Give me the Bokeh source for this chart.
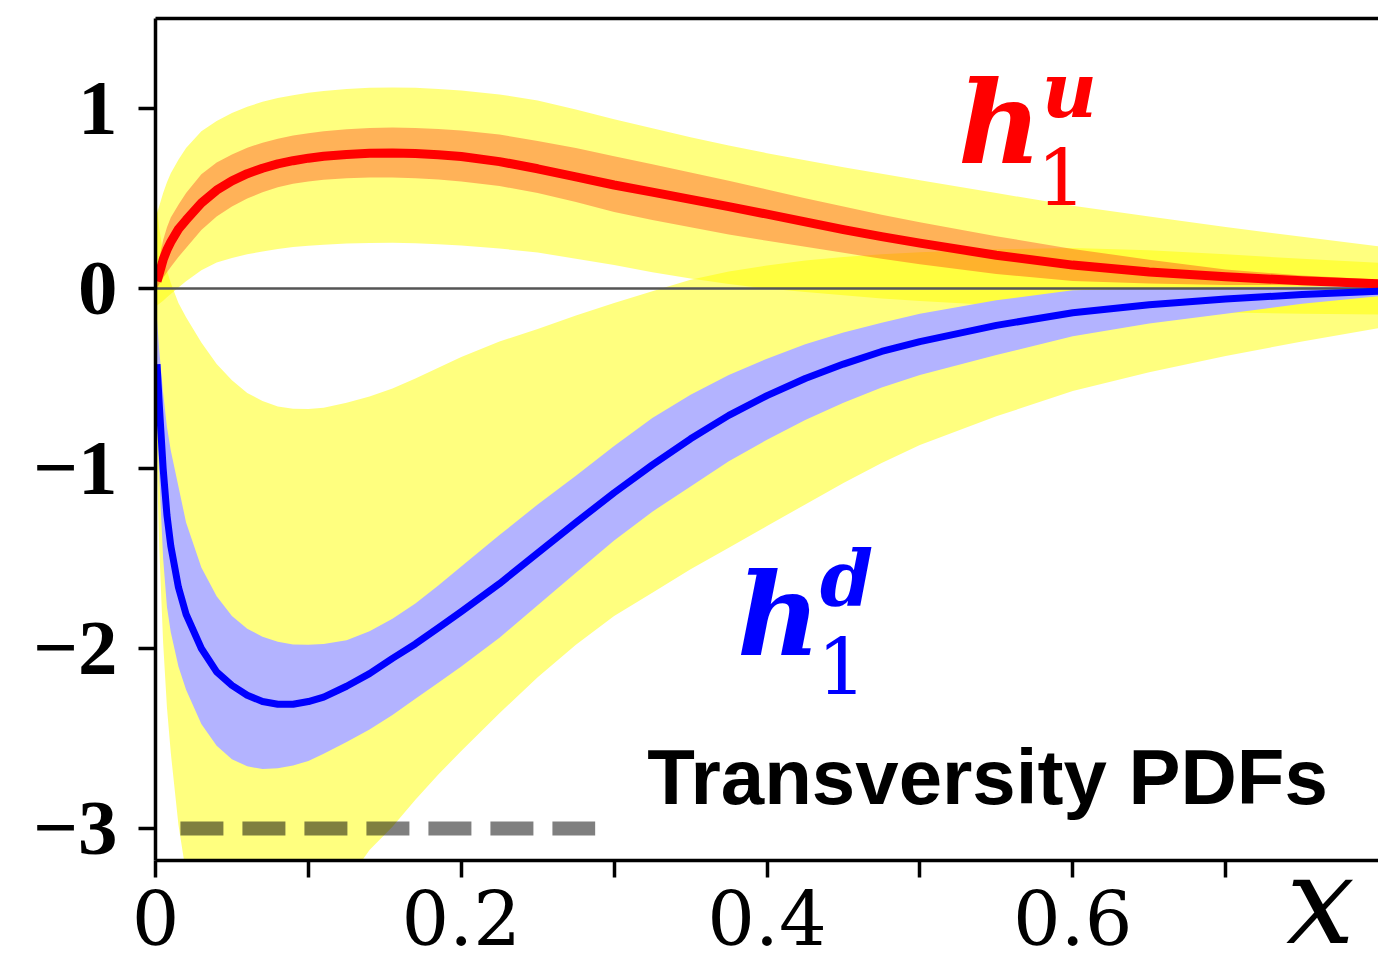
from bokeh.plotting import figure
from bokeh.models import ColumnDataSource, Label, FixedTicker, LinearAxis, Range1d
from bokeh.embed import file_html
from bokeh.resources import INLINE

# ---- data ----
x = [0.001, 0.0025, 0.005, 0.0075, 0.01, 0.015, 0.02, 0.03, 0.04, 0.05, 0.06, 0.07, 0.08, 0.09,
     0.1, 0.11, 0.125, 0.14, 0.155, 0.17, 0.185, 0.2, 0.225, 0.25, 0.275, 0.3, 0.325, 0.35,
     0.375, 0.4, 0.425, 0.45, 0.475, 0.5, 0.55, 0.6, 0.65, 0.7, 0.75, 0.8]

# h1^u : central curve, inner (orange) band, outer (yellow) band
u_cen = [0.04, 0.085, 0.16, 0.215, 0.258, 0.33, 0.38, 0.475, 0.546, 0.598, 0.638, 0.668, 0.692, 0.71,
         0.724, 0.735, 0.745, 0.751, 0.753, 0.75, 0.743, 0.733, 0.705, 0.665, 0.62, 0.575, 0.535, 0.495,
         0.455, 0.413, 0.37, 0.327, 0.288, 0.252, 0.185, 0.13, 0.092, 0.065, 0.043, 0.026]
u_hi = [0.08, 0.17, 0.27, 0.34, 0.395, 0.465, 0.53, 0.635, 0.70, 0.745, 0.782, 0.81, 0.832, 0.85,
        0.862, 0.873, 0.885, 0.892, 0.894, 0.892, 0.886, 0.878, 0.855, 0.82, 0.78, 0.735, 0.69, 0.645,
        0.598, 0.55, 0.502, 0.455, 0.41, 0.368, 0.29, 0.22, 0.16, 0.105, 0.072, 0.05]
u_lo = [0.0, 0.025, 0.06, 0.09, 0.12, 0.175, 0.225, 0.325, 0.40, 0.455, 0.50, 0.535, 0.562, 0.582,
        0.595, 0.604, 0.612, 0.616, 0.617, 0.613, 0.605, 0.595, 0.57, 0.53, 0.48, 0.425, 0.38, 0.34,
        0.30, 0.265, 0.232, 0.198, 0.165, 0.135, 0.08, 0.042, 0.028, 0.02, 0.018, 0.016]
uy_hi = [0.42, 0.46, 0.53, 0.59, 0.64, 0.715, 0.78, 0.873, 0.93, 0.975, 1.01, 1.037, 1.058, 1.074,
         1.087, 1.097, 1.108, 1.115, 1.117, 1.115, 1.109, 1.10, 1.078, 1.045, 0.995, 0.94, 0.89, 0.84,
         0.795, 0.752, 0.712, 0.674, 0.637, 0.602, 0.53, 0.46, 0.40, 0.342, 0.287, 0.235]
uy_lo = [-0.095, -0.085, -0.068, -0.048, -0.03, 0.005, 0.04, 0.102, 0.144, 0.17, 0.19, 0.206, 0.22, 0.23,
         0.237, 0.243, 0.25, 0.253, 0.254, 0.252, 0.246, 0.239, 0.222, 0.2, 0.165, 0.13, 0.09, 0.055,
         0.025, 0.0, -0.02, -0.038, -0.055, -0.07, -0.093, -0.11, -0.123, -0.133, -0.14, -0.145]

# h1^d : central curve, inner (blue) band, outer (yellow) band
d_cen = [-0.42, -0.65, -1.0, -1.26, -1.43, -1.66, -1.81, -2.0, -2.13, -2.205, -2.26, -2.295, -2.31, -2.31,
         -2.295, -2.27, -2.21, -2.14, -2.055, -1.975, -1.885, -1.795, -1.64, -1.47, -1.30, -1.135, -0.98, -0.835,
         -0.705, -0.595, -0.50, -0.42, -0.35, -0.295, -0.205, -0.135, -0.09, -0.058, -0.034, -0.015]
d_hi = [-0.17, -0.35, -0.58, -0.77, -0.9, -1.1, -1.3, -1.55, -1.71, -1.82, -1.89, -1.935, -1.963, -1.978,
        -1.98, -1.975, -1.955, -1.905, -1.835, -1.75, -1.65, -1.545, -1.37, -1.2, -1.04, -0.875, -0.72, -0.59,
        -0.48, -0.39, -0.31, -0.245, -0.19, -0.14, -0.065, -0.01, 0.0, 0.006, 0.01, 0.013]
d_lo = [-0.7, -1.05, -1.5, -1.77, -1.91, -2.1, -2.23, -2.42, -2.54, -2.615, -2.655, -2.67, -2.665, -2.65,
        -2.625, -2.585, -2.52, -2.45, -2.37, -2.28, -2.19, -2.1, -1.94, -1.76, -1.58, -1.40, -1.24, -1.1,
        -0.96, -0.84, -0.73, -0.635, -0.55, -0.48, -0.37, -0.265, -0.195, -0.14, -0.085, -0.043]
dy_hi = [0.45, 0.33, 0.2, 0.1, 0.03, -0.08, -0.16, -0.3, -0.42, -0.51, -0.58, -0.625, -0.655, -0.668,
         -0.67, -0.662, -0.635, -0.6, -0.555, -0.5, -0.44, -0.38, -0.295, -0.225, -0.15, -0.08, -0.015, 0.048,
         0.095, 0.128, 0.155, 0.175, 0.19, 0.202, 0.218, 0.225, 0.212, 0.19, 0.165, 0.143]
dy_lo = [-1.0, -1.45, -1.97, -2.33, -2.58, -2.98, -3.25, -3.6, -3.8, -3.9, -3.93, -3.9, -3.83, -3.73,
         -3.62, -3.5, -3.3, -3.12, -2.99, -2.84, -2.70, -2.57, -2.36, -2.16, -1.98, -1.82, -1.69, -1.56,
         -1.44, -1.32, -1.20, -1.08, -0.97, -0.87, -0.71, -0.57, -0.465, -0.375, -0.295, -0.22]

dash_x = [0.0163, 0.2876]
dash_y = [-3.0, -3.0]

x_ticks = [0, 0.2, 0.4, 0.6]
x_minor = [0.1, 0.3, 0.5, 0.7]
y_ticks = [-3, -2, -1, 0, 1]
y_labels = {-3: "\u22123", -2: "\u22122", -1: "\u22121", 0: "0", 1: "1"}

src = ColumnDataSource(dict(x=x, u_cen=u_cen, u_hi=u_hi, u_lo=u_lo, uy_hi=uy_hi, uy_lo=uy_lo,
                            d_cen=d_cen, d_hi=d_hi, d_lo=d_lo, dy_hi=dy_hi, dy_lo=dy_lo))

p = figure(width=1378, height=977, x_range=Range1d(0, 0.8), y_range=Range1d(-3.178, 1.5),
           output_backend="svg", toolbar_location=None,
           min_border_left=155, min_border_right=0, min_border_top=18, min_border_bottom=117)
p.grid.visible = False
p.outline_line_color = None
p.background_fill_color = "white"
p.border_fill_color = "white"

# bands
p.varea(x="x", y1="uy_lo", y2="uy_hi", source=src, fill_color="#ffff00", fill_alpha=0.5)
p.varea(x="x", y1="dy_lo", y2="dy_hi", source=src, fill_color="#ffff00", fill_alpha=0.5)
p.varea(x="x", y1="d_lo", y2="d_hi", source=src, fill_color="#b3b3ff", fill_alpha=1.0)
p.varea(x="x", y1="u_lo", y2="u_hi", source=src, fill_color="#ff0000", fill_alpha=0.3)

# zero line
p.hspan(y=[0], line_color="#555555", line_width=2.5)

# central curves
p.line(x="x", y="u_cen", source=src, line_color="#ff0000", line_width=9, line_join="round")
p.line(x="x", y="d_cen", source=src, line_color="#0000ff", line_width=7, line_join="round")

# dashed reference line
p.line(dash_x, dash_y, line_color="black", line_alpha=0.5, line_width=14,
       line_dash="43 19", line_cap="butt")

# axes
ax = p.xaxis[0]
ax.ticker = FixedTicker(ticks=x_ticks, minor_ticks=x_minor)
ay = p.yaxis[0]
ay.ticker = FixedTicker(ticks=y_ticks)
ay.major_label_overrides = y_labels
for a in (ax, ay):
    a.axis_line_width = 3.5
    a.axis_line_color = "black"
    a.major_tick_line_width = 3.5
    a.major_tick_out = 17
    a.major_tick_in = 0
    a.minor_tick_line_width = 3.5
    a.minor_tick_out = 17
    a.minor_tick_in = 0
    a.major_label_text_color = "black"
ay.minor_tick_line_color = None
ax.major_label_text_font = "DejaVu Serif"
ax.major_label_text_font_size = "75px"
ax.major_label_standoff = 12
ay.major_label_text_font = "Liberation Serif"
ay.major_label_text_font_style = "bold"
ay.major_label_text_font_size = "79px"
ay.major_label_standoff = 21

# x-axis title "x" at the right end, pulled up into the bottom border
ax.axis_label_text_font = "DejaVu Serif"
ax.axis_label_text_font_style = "italic"
ax.axis_label_text_font_size = "122px"
ax.axis_label_text_color = "black"
ax.axis_label_standoff = -118
if "axis_label_align" in ax.properties():
    ax.axis_label = "x" + "\u00a0" * 3
    ax.axis_label_align = "end"
else:
    ax.axis_label = "\u00a0" * 28 + "x"

top = LinearAxis(ticker=FixedTicker(ticks=[]), axis_line_width=3.5, axis_line_color="black",
                 major_label_text_font_size="0px", major_tick_line_color=None,
                 minor_tick_line_color=None)
p.add_layout(top, "above")

# annotations
def lab(xv, yv, t, size, color, style, font="DejaVu Serif"):
    p.add_layout(Label(x=xv, y=yv, text=t, text_font=font, text_font_size=size,
                       text_font_style=style, text_color=color, text_align="left",
                       text_baseline="alphabetic"))

lab(0.525, 0.924, "h", "115px", "#ff0000", "bold italic")
lab(0.5797, 1.099, "u", "76px", "#ff0000", "bold italic")
lab(0.5765, 0.622, "1", "78px", "#ff0000", "normal")

lab(0.3804, -1.809, "h", "115px", "#0000ff", "bold italic")
lab(0.4346, -1.612, "d", "76px", "#0000ff", "bold italic")
lab(0.4327, -2.095, "1", "78px", "#0000ff", "normal")

lab(0.3216, -2.712, "Transversity PDFs", "78px", "black", "bold", font="Liberation Sans")

open("out.html", "w").write(file_html(p, INLINE))
